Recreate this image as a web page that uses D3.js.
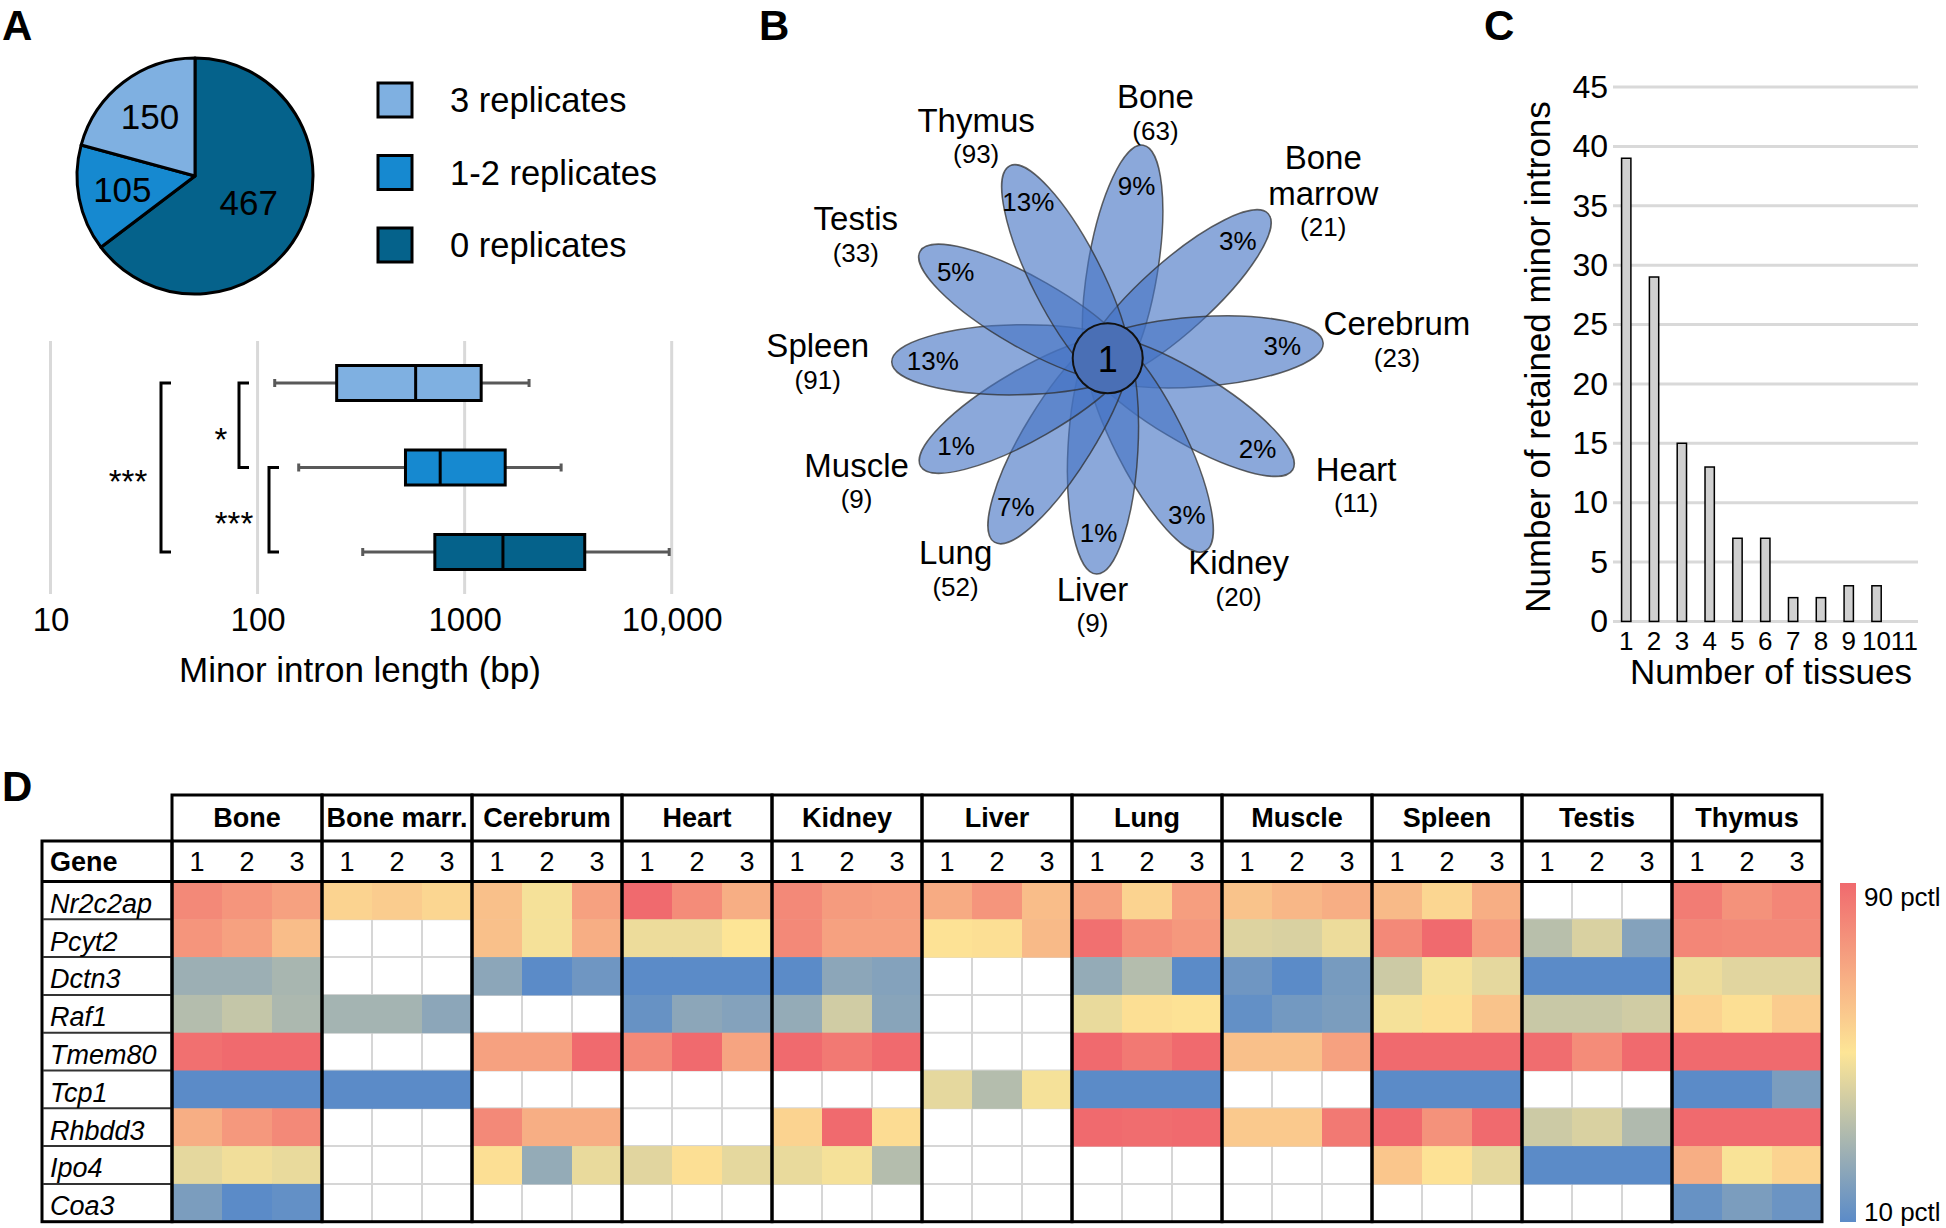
<!DOCTYPE html>
<html><head><meta charset="utf-8">
<script src="https://cdn.jsdelivr.net/npm/d3@7"></script>
<style>html,body{margin:0;padding:0;background:#fff;} svg{display:block;font-family:"Liberation Sans",Arial,Helvetica,sans-serif;}</style>
</head><body>
<svg id="fig" width="1946" height="1228"></svg>
<script>
// ================= DATA =================
// Panel A – pie
const pieCategories = ["3 replicates", "1-2 replicates", "0 replicates"];
const pieCounts = [150, 105, 467];
// Panel A – box plot (minor intron length, bp)
const boxCategories = ["3 replicates", "1-2 replicates", "0 replicates"];
const boxWhiskerLow = [121, 158, 322];
const boxQ1 = [241, 518, 718];
const boxMedian = [580, 762, 1531];
const boxQ3 = [1202, 1570, 3802];
const boxWhiskerHigh = [2047, 2924, 9725];
const lengthTicks = [10, 100, 1000, 10000];
const lengthTickLabels = ["10", "100", "1000", "10,000"];
const sigLabels = ["*", "***", "***"]; // 3 vs 1-2, 1-2 vs 0, 3 vs 0

// Panel B – flower
const flowerTissues = ["Bone", "Bone marrow", "Cerebrum", "Heart", "Kidney", "Liver", "Lung", "Muscle", "Spleen", "Testis", "Thymus"];
const flowerCounts = [63, 21, 23, 11, 20, 9, 52, 9, 91, 33, 93];
const flowerPercents = [9, 3, 3, 2, 3, 1, 7, 1, 13, 5, 13];
const flowerCore = 1;

// Panel C – bars
const tissueNumbers = [1, 2, 3, 4, 5, 6, 7, 8, 9, 10, 11];
const retainedIntrons = [39, 29, 15, 13, 7, 7, 2, 2, 3, 3, 0];
const countTicks = [0, 5, 10, 15, 20, 25, 30, 35, 40, 45];

// Panel D – heatmap (percentile, null = not detected)
const hmTissues = ["Bone", "Bone marr.", "Cerebrum", "Heart", "Kidney", "Liver", "Lung", "Muscle", "Spleen", "Testis", "Thymus"];
const replicates = ["1", "2", "3"];
const genes = ["Nr2c2ap", "Pcyt2", "Dctn3", "Raf1", "Tmem80", "Tcp1", "Rhbdd3", "Ipo4", "Coa3"];
const N = null;
const pctlBone     = [[80,76,72],[76,72,63],[26,26,29],[32,36,30],[88,90,90],[10,10,10],[68,75,80],[44,47,45],[18,10,12]];
const pctlBoneMarr = [[56,58,55],[N,N,N],[N,N,N],[28,28,22],[N,N,N],[10,10,10],[N,N,N],[N,N,N],[N,N,N]];
const pctlCerebrum = [[62,48,72],[62,48,68],[22,10,15],[N,N,N],[72,72,90],[N,N,N],[80,68,68],[52,24,45],[N,N,N]];
const pctlHeart    = [[90,79,68],[46,46,50],[10,10,10],[13,22,20],[80,90,71],[N,N,N],[N,N,N],[43,52,44],[N,N,N]];
const pctlKidney   = [[80,74,73],[80,72,72],[10,22,20],[24,39,21],[90,85,90],[N,N,N],[56,90,53],[45,48,32],[N,N,N]];
const pctlLiver    = [[69,76,63],[51,52,64],[N,N,N],[N,N,N],[N,N,N],[44,32,48],[N,N,N],[N,N,N],[N,N,N]];
const pctlLung     = [[72,56,73],[88,78,75],[24,32,10],[45,52,51],[90,85,90],[10,10,10],[90,89,90],[N,N,N],[N,N,N]];
const pctlMuscle   = [[61,65,68],[42,41,46],[15,10,17],[12,16,18],[62,62,72],[N,N,N],[59,59,85],[N,N,N],[N,N,N]];
const pctlSpleen   = [[64,55,68],[80,90,73],[38,48,44],[48,52,61],[90,90,90],[10,10,10],[90,77,90],[60,51,44],[N,N,N]];
const pctlTestis   = [[N,N,N],[33,41,20],[10,10,10],[37,37,39],[89,79,90],[N,N,N],[38,41,31],[10,10,10],[N,N,N]];
const pctlThymus   = [[84,77,81],[81,80,80],[46,43,43],[56,52,58],[90,90,90],[10,10,18],[90,90,90],[68,49,56],[13,18,14]];
const pctlByTissue = [pctlBone, pctlBoneMarr, pctlCerebrum, pctlHeart, pctlKidney, pctlLiver, pctlLung, pctlMuscle, pctlSpleen, pctlTestis, pctlThymus];
const legendLabels = ["90 pctl", "10 pctl"];

// ================= DRAWING =================
const svg = d3.select("#fig");
const txt = (g, x, y, s, size, opts = {}) => g.append("text").attr("x", x).attr("y", y).text(s)
  .attr("font-size", size).attr("text-anchor", opts.anchor || "start")
  .attr("font-weight", opts.weight || "normal").attr("font-style", opts.style || "normal")
  .attr("dy", opts.dy == null ? "0.35em" : opts.dy).attr("fill", "#000");

// panel letters
[["A", 2, 40], ["B", 759, 40], ["C", 1484, 40], ["D", 2, 801]].forEach(([l, x, y]) =>
  txt(svg, x, y, l, 42, { weight: "bold", dy: 0 }));

// ---------- Panel A: pie ----------
const colA = d3.scaleOrdinal().domain(pieCategories).range(["#7fb0e1", "#1689d0", "#05628b"]);
const gPie = svg.append("g").attr("transform", "translate(195,176)");
const pieIn = pieCategories.map((c, i) => ({ cat: c, val: pieCounts[i] })).reverse();
const pieArcs = d3.pie().sort(null).value(d => d.val)(pieIn);
const arc = d3.arc().innerRadius(0).outerRadius(118);
gPie.selectAll("path").data(pieArcs).join("path").attr("d", arc)
  .attr("fill", d => colA(d.data.cat)).attr("stroke", "#000").attr("stroke-width", 3).attr("stroke-linejoin", "round");
pieArcs.forEach(d => {
  const r = (d.endAngle - d.startAngle) > Math.PI ? 60 : 74;
  const [x, y] = d3.arc().innerRadius(r).outerRadius(r).centroid(d);
  txt(gPie, x, y, d.data.val, 35, { anchor: "middle" });
});

// legend
const yLeg = d3.scalePoint().domain(pieCategories).range([100, 245]);
pieCategories.forEach(c => {
  svg.append("rect").attr("x", 378).attr("y", yLeg(c) - 17).attr("width", 34).attr("height", 34)
    .attr("fill", colA(c)).attr("stroke", "#000").attr("stroke-width", 3);
  txt(svg, 450, yLeg(c), c, 34.5);
});

// ---------- Panel A: box plot ----------
const xLog = d3.scaleLog().domain([10, 10000]).range([50.5, 671.7]);
const yBox = d3.scalePoint().domain(boxCategories).range([383, 552]);
const gBox = svg.append("g");
lengthTicks.forEach(t => gBox.append("line").attr("x1", xLog(t)).attr("x2", xLog(t)).attr("y1", 341).attr("y2", 594)
  .attr("stroke", "#d9d9d9").attr("stroke-width", 3));
const axA = gBox.append("g").attr("transform", "translate(0,608)")
  .call(d3.axisBottom(xLog).tickValues(lengthTicks).tickFormat((d, i) => lengthTickLabels[i]).tickSize(0).tickPadding(0));
axA.select(".domain").remove();
axA.selectAll("text").attr("font-size", 33).attr("font-family", null).attr("fill", "#000");
txt(gBox, 360, 670, "Minor intron length (bp)", 35, { anchor: "middle" });
const bh = 35;
boxCategories.forEach((c, i) => {
  const y = yBox(c);
  const wl = xLog(boxWhiskerLow[i]), wh = xLog(boxWhiskerHigh[i]);
  const q1 = xLog(boxQ1[i]), q3 = xLog(boxQ3[i]), md = xLog(boxMedian[i]);
  gBox.append("line").attr("x1", wl).attr("x2", q1).attr("y1", y).attr("y2", y).attr("stroke", "#595959").attr("stroke-width", 3);
  gBox.append("line").attr("x1", q3).attr("x2", wh).attr("y1", y).attr("y2", y).attr("stroke", "#595959").attr("stroke-width", 3);
  [wl, wh].forEach(x => gBox.append("line").attr("x1", x).attr("x2", x).attr("y1", y - 4).attr("y2", y + 4).attr("stroke", "#595959").attr("stroke-width", 3));
  gBox.append("rect").attr("x", q1).attr("y", y - bh / 2).attr("width", q3 - q1).attr("height", bh)
    .attr("fill", colA(c)).attr("stroke", "#000").attr("stroke-width", 3);
  gBox.append("line").attr("x1", md).attr("x2", md).attr("y1", y - bh / 2).attr("y2", y + bh / 2).attr("stroke", "#000").attr("stroke-width", 3);
});
// significance brackets
const brackets = [
  { a: 0, b: 1, x: 239, lx: 221, lab: sigLabels[0] },
  { a: 1, b: 2, x: 269, lx: 234, lab: sigLabels[1] },
  { a: 0, b: 2, x: 161, lx: 128, lab: sigLabels[2] }];
brackets.forEach(b => {
  const y1 = yBox(boxCategories[b.a]), y2 = yBox(boxCategories[b.b]);
  gBox.append("path").attr("d", `M${b.x + 10},${y1}H${b.x}V${y2}H${b.x + 10}`).attr("fill", "none").attr("stroke", "#000").attr("stroke-width", 3);
  txt(gBox, b.lx, (y1 + y2) / 2 + 14, b.lab, 33, { anchor: "middle" });
});

// ---------- Panel B: flower ----------
const fcx = 1107.7, fcy = 358.3;
const nPet = flowerTissues.length;
const deg = Math.PI / 180;
const offY = 0.12, offX = 0.1;          // petal directions aim at a ring whose centre is offset from the core
const petAng = i => {                   // apparent petal direction (deg, 0 = up, clockwise)
  const t = (14 + i * 360 / nPet) * deg;
  return Math.atan2(Math.sin(t) - offX, Math.cos(t) - offY) / deg;
};
const tipR = 216, tail = 35, petW = 35;
const gFl = svg.append("g").attr("transform", `translate(${fcx},${fcy})`);
flowerTissues.forEach((t, i) => {
  gFl.append("ellipse").attr("transform", `rotate(${petAng(i) - 90})`)
    .attr("cx", (tipR - tail) / 2).attr("cy", 0).attr("rx", (tipR + tail) / 2).attr("ry", petW)
    .attr("fill", "#4472c4").attr("fill-opacity", 0.62)
    .attr("stroke", "#2f2f2f").attr("stroke-opacity", 0.75).attr("stroke-width", 1.5);
});
flowerTissues.forEach((t, i) => {
  const a = petAng(i) * deg;
  txt(gFl, 175 * Math.sin(a), -175 * Math.cos(a), flowerPercents[i] + "%", 26, { anchor: "middle" });
  const bx = 290 * Math.sin(a), by = -248 * Math.cos(a);
  const nameLines = t.split(" ");
  const pos = nameLines.map((_, k) => k * 36);
  pos.push(pos[pos.length - 1] + 34);
  const off = -(pos[0] + pos[pos.length - 1]) / 2;
  nameLines.forEach((s, k) => txt(gFl, bx, by + off + pos[k], s, 33, { anchor: "middle" }));
  txt(gFl, bx, by + off + pos[pos.length - 1], `(${flowerCounts[i]})`, 26, { anchor: "middle" });
});
gFl.append("circle").attr("r", 35).attr("fill", "#4a6fb5").attr("stroke", "#111").attr("stroke-width", 2);
txt(gFl, 0, 1, flowerCore, 36, { anchor: "middle" });

// ---------- Panel C: bars ----------
const xC = d3.scaleBand().domain(tissueNumbers).range([1612.4, 1918.2]).paddingInner(0.665).paddingOuter(0.33);
const yC = d3.scaleLinear().domain([0, 45]).range([621.4, 87]);
const gC = svg.append("g");
countTicks.forEach(t => gC.append("line").attr("x1", 1613).attr("x2", 1918).attr("y1", yC(t)).attr("y2", yC(t))
  .attr("stroke", "#d9d9d9").attr("stroke-width", 3));
gC.selectAll("rect.bar").data(tissueNumbers.filter((d, i) => retainedIntrons[i] > 0)).join("rect")
  .attr("x", d => xC(d)).attr("width", xC.bandwidth())
  .attr("y", d => yC(retainedIntrons[d - 1])).attr("height", d => yC(0) - yC(retainedIntrons[d - 1]))
  .attr("fill", "#d0d0d0").attr("stroke", "#000").attr("stroke-width", 1.5);
const axCy = gC.append("g").attr("transform", "translate(1608,0)")
  .call(d3.axisLeft(yC).tickValues(countTicks).tickSize(0).tickPadding(0));
axCy.select(".domain").remove();
axCy.selectAll("text").attr("font-size", 32).attr("font-family", null).attr("fill", "#000");
const axCx = gC.append("g").attr("transform", "translate(0,621.4)")
  .call(d3.axisBottom(xC).tickSize(0).tickPadding(10));
axCx.select(".domain").remove();
axCx.selectAll("text").attr("font-size", 26).attr("font-family", null).attr("fill", "#000");
txt(gC, 1771, 672, "Number of tissues", 35, { anchor: "middle" });
txt(gC, 0, 0, "Number of retained minor introns", 35, { anchor: "middle" })
  .attr("transform", "translate(1538,357) rotate(-90)");

// ---------- Panel D: heatmap ----------
const xT = d3.scaleBand().domain(hmTissues).range([172, 1822]);
const xR = d3.scaleBand().domain(replicates).range([0, xT.bandwidth()]);
const yG = d3.scaleBand().domain(genes).range([881.5, 1221.7]);
const colD = d3.scaleLinear().domain([10, 50, 90]).range(["#5b8bc8", "#fde596", "#f06a6e"]).clamp(true);
const gD = svg.append("g");
const hTop = 795, hHdr = 841;
// light grid
hmTissues.forEach(t => replicates.slice(1).forEach(r => gD.append("line")
  .attr("x1", xT(t) + xR(r)).attr("x2", xT(t) + xR(r)).attr("y1", yG.range()[0]).attr("y2", yG.range()[1])
  .attr("stroke", "#d6d6d6").attr("stroke-width", 2)));
genes.slice(1).forEach(g => gD.append("line").attr("x1", 172).attr("x2", 1822).attr("y1", yG(g)).attr("y2", yG(g))
  .attr("stroke", "#d6d6d6").attr("stroke-width", 2));
// cells
hmTissues.forEach((t, ti) => genes.forEach((g, gi) => replicates.forEach((r, ri) => {
  const v = pctlByTissue[ti][gi][ri];
  if (v == null) return;
  gD.append("rect").attr("x", xT(t) + xR(r)).attr("y", yG(g)).attr("width", xR.bandwidth() + 0.5).attr("height", yG.bandwidth() + 0.5)
    .attr("fill", colD(v));
})));
// gene column
gD.append("rect").attr("x", 42).attr("y", hHdr).attr("width", 130).attr("height", 1221.7 - hHdr)
  .attr("fill", "none").attr("stroke", "#000").attr("stroke-width", 3);
genes.slice(1).forEach(g => gD.append("line").attr("x1", 43).attr("x2", 171).attr("y1", yG(g)).attr("y2", yG(g))
  .attr("stroke", "#333").attr("stroke-width", 2));
genes.forEach(g => txt(gD, 50, yG(g) + yG.bandwidth() / 2 + 3, g, 27, { style: "italic" }));
txt(gD, 50, (hHdr + yG.range()[0]) / 2, "Gene", 27, { weight: "bold" });
gD.append("line").attr("x1", 42).attr("x2", 1822).attr("y1", yG.range()[0]).attr("y2", yG.range()[0]).attr("stroke", "#000").attr("stroke-width", 3);
gD.append("line").attr("x1", 172).attr("x2", 1822).attr("y1", hHdr).attr("y2", hHdr).attr("stroke", "#000").attr("stroke-width", 3);
hmTissues.forEach(t => {
  gD.append("rect").attr("x", xT(t)).attr("y", hTop).attr("width", xT.bandwidth()).attr("height", 1221.7 - hTop)
    .attr("fill", "none").attr("stroke", "#000").attr("stroke-width", 3);
  txt(gD, xT(t) + xT.bandwidth() / 2, (hTop + hHdr) / 2, t, 27, { anchor: "middle", weight: "bold" });
  replicates.forEach(r => txt(gD, xT(t) + xR(r) + xR.bandwidth() / 2, (hHdr + yG.range()[0]) / 2, r, 27, { anchor: "middle" }));
});
// colour legend
const defs = svg.append("defs");
const grad = defs.append("linearGradient").attr("id", "hmgrad").attr("x1", 0).attr("y1", 1).attr("x2", 0).attr("y2", 0);
d3.range(0, 1.0001, 0.1).forEach(f => grad.append("stop").attr("offset", f).attr("stop-color", colD(10 + 80 * f)));
gD.append("rect").attr("x", 1840).attr("y", 883).attr("width", 16).attr("height", 339).attr("fill", "url(#hmgrad)");
txt(gD, 1864, 897, legendLabels[0], 26);
txt(gD, 1864, 1212, legendLabels[1], 26);
</script>
</body></html>
